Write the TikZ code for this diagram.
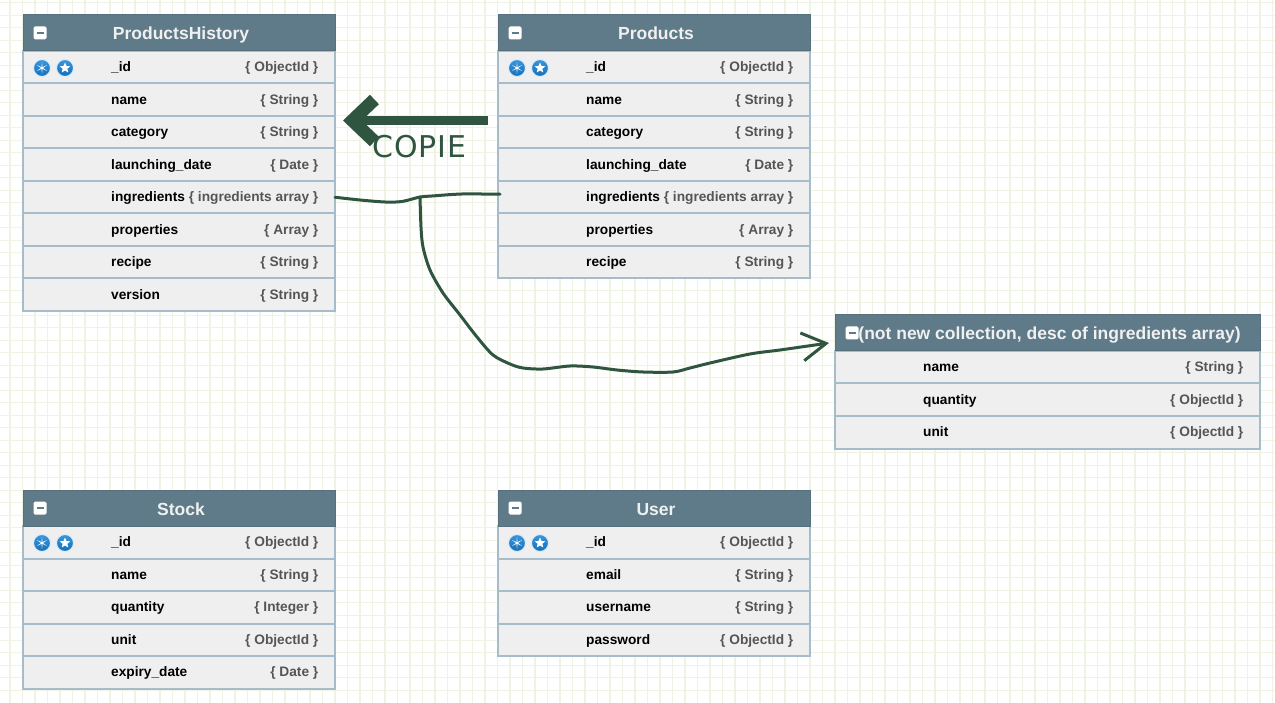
\documentclass[tikz,border=0pt]{standalone}
\usepackage{fontspec}
\usetikzlibrary{arrows.meta,shapes.geometric}
\setmainfont{Liberation Sans}
\newfontfamily\copiefont[LetterSpace=3]{DejaVu Sans}
\definecolor{gridgreen}{HTML}{EEF3E3}
\definecolor{headblue}{HTML}{5F7A88}
\definecolor{rowgrey}{HTML}{EFEFEF}
\definecolor{rowline}{HTML}{A6BCCA}
\definecolor{typegrey}{HTML}{555555}
\definecolor{penstroke}{HTML}{2F5541}
\definecolor{keyblue}{HTML}{1784D8}
\newcommand{\colltable}[6]{%
  \begin{scope}[shift={(#2,#3)}]
    \foreach \rowlabel/\rowtype [count=\i] in {#6} {
      \pgfmathsetmacro{\rowy}{36+(\i-0.5)*32.5}
      \node[tablerow,minimum width=#4] (#1-\i) at (#4/2,\rowy) {};
      \node[rowlabel] (#1-\i-label) at (88,\rowy) {\rowlabel};
      \node[rowtype] (#1-\i-type) at (#4-16.5,\rowy) {\{ \rowtype\ \}};
    }
    \node[tablehead,minimum width=#4] (#1) at (#4/2,18) {};
    \node[tabletitle] (#1-title) at (#4/2+2,18) {#5};
    \node[minusbox] (#1-minus) at (17,18) {};
    \draw[minusbar] (#1-minus.center) +(-3.5,0) -- +(3.5,0);
  \end{scope}}
\newcommand{\keyicons}[3]{%
  \node[keydot] (#1-dotA) at (42,#3) {};
  \node[keystar,star points=6,star point ratio=6,minimum size=12] (#1-starA) at (42,#3) {};
  \node[keydot] (#1-dotB) at (#2,#3) {};
  \node[keystar,star points=5,star point ratio=2.2,minimum size=11] (#1-starB) at (#2,#3) {};}
\begin{document}
\begin{tikzpicture}[x=1pt,y=-1pt,
    gridline/.style={draw=gridgreen,line width=1.3pt},
    tablerow/.style={rectangle,draw=rowline,fill=rowgrey,line width=2pt,minimum height=32.5,inner sep=0pt,outer sep=0pt},
    rowlabel/.style={anchor=west,inner sep=0pt,font=\fontsize{13.7}{15}\selectfont\bfseries,text height=9,text depth=0},
    rowtype/.style={anchor=east,inner sep=0pt,font=\fontsize{13.7}{15}\selectfont\bfseries,text=typegrey,text height=9,text depth=0},
    tablehead/.style={rectangle,draw=headblue!92!black,fill=headblue,line width=1pt,minimum height=36,inner sep=0pt,outer sep=0pt},
    tabletitle/.style={inner sep=0pt,font=\fontsize{17.5}{20}\selectfont\bfseries,text=white!94!black,text height=14,text depth=0},
    minusbox/.style={rectangle,rounded corners=1.5pt,fill=white,minimum size=13,inner sep=0pt},
    minusbar/.style={draw=headblue,line width=1.6pt},
    keydot/.style={circle,top color=keyblue!85!white,bottom color=keyblue!85!black,draw=white!85!keyblue,line width=1pt,minimum size=17,inner sep=0pt},
    keystar/.style={star,fill=white,inner sep=0pt},
    penline/.style={draw=penstroke,line width=3pt,line join=round,line cap=round},
    copyarrow/.style={draw=penstroke,line width=9pt,-{Straight Barb[sharp,length=22pt,width=42pt,line width=13pt]}},
    copielabel/.style={anchor=base west,inner sep=0pt,text=penstroke,font=\fontsize{30}{34}\selectfont\copiefont}]
  \useasboundingbox (0,0) rectangle (1275,703);
  \fill[white] (0,0) rectangle (1275,703);
  \foreach \gx in {10,22.5,...,1272.5} \draw[gridline] (\gx,0) -- (\gx,703);
  \foreach \gy in {2.7,15.2,...,702} \draw[gridline] (0,\gy) -- (1275,\gy);

  \colltable{hist}{23}{15}{312}{ProductsHistory}{\_id/ObjectId,name/String,category/String,launching\_date/Date,ingredients/ingredients array,properties/Array,recipe/String,version/String}
  \colltable{prod}{498}{15}{312}{Products}{\_id/ObjectId,name/String,category/String,launching\_date/Date,ingredients/ingredients array,properties/Array,recipe/String}
  \colltable{desc}{835}{315}{425}{(not new collection, desc of ingredients array)}{name/String,quantity/ObjectId,unit/ObjectId}
  \colltable{stock}{23}{490}{312}{Stock}{\_id/ObjectId,name/String,quantity/Integer,unit/ObjectId,expiry\_date/Date}
  \colltable{user}{498}{490}{312}{User}{\_id/ObjectId,email/String,username/String,password/ObjectId}

  \keyicons{hist}{65}{68}
  \keyicons{stock}{65}{543}
  \begin{scope}[xshift=475]
    \keyicons{prod}{65}{68}
    \keyicons{user}{65}{543}
  \end{scope}

  \coordinate (copystart) at (488,120.5);
  \coordinate (copyend) at (343,120.5);
  \coordinate (junction) at (420,197);
  \coordinate (desctip) at (829,343);
  \draw[copyarrow] (copystart) -- (copyend);
  \node[copielabel] (copie) at (372,157.5) {COPIE};
  \draw[penline] plot[smooth,tension=0.5] coordinates {(hist-5.east) (360,200) (385,202) (402,201.5) (junction) (432,196) (462,194) ([yshift=3pt,xshift=2pt]prod-5.west)};
  \draw[penline,-{Straight Barb[length=24pt,width=28pt]}] plot[smooth,tension=0.5] coordinates {(junction) (421,227) (423,247) (430,270) (443,293) (460,315) (477,337) (493,355) (510,364) (523,368) (543,369) (570,366) (593,367) (617,370) (643,372) (673,372) (690,368) (710,363) (750,354) (780,350) (815,345) (desctip)};
\end{tikzpicture}
\end{document}
